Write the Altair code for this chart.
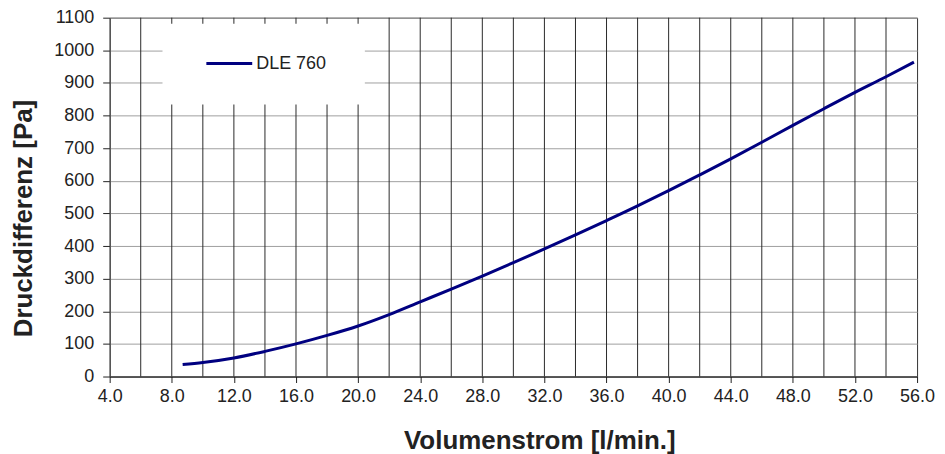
import altair as alt
import pandas as pd

series_name = "DLE 760"
flow = [8.7, 10, 12, 14, 16, 18, 20, 22, 24, 26, 28, 30, 32, 34, 36, 38, 40, 42, 44, 46, 48, 50, 52, 54, 55.8]
dp = [37, 43, 57, 77, 100, 126, 155, 190, 229, 268, 308, 349, 391, 434, 478, 523, 570, 618, 667, 718, 770, 821, 871, 919, 964]
x_ticks = [4, 8, 12, 16, 20, 24, 28, 32, 36, 40, 44, 48, 52, 56]
x_grid = [6, 8, 10, 12, 14, 16, 18, 20, 22, 24, 26, 28, 30, 32, 34, 36, 38, 40, 42, 44, 46, 48, 50, 52, 54]
y_ticks = [0, 100, 200, 300, 400, 500, 600, 700, 800, 900, 1000, 1100]

W, H = 810, 360

df = pd.DataFrame({"x": flow, "y": dp, "s": series_name})
grid_df = pd.DataFrame({"x": x_grid})

FONT = "Liberation Sans"
xscale = alt.Scale(domain=[4, 56], nice=False, zero=False)
yscale = alt.Scale(domain=[0, 1100], nice=False)

x_axis = alt.Axis(values=x_ticks, format=".1f", title="Volumenstrom [l/min.]",
                  grid=False, tickSize=6, tickColor="#222", domainColor="#111",
                  labelFontSize=18, labelColor="#222", labelPadding=5, labelFlush=False,
                  titleFontSize=26, titleFontWeight="bold", titleColor="#222",
                  titleX=431, titleY=64, titleBaseline="middle",
                  labelFont=FONT, titleFont=FONT)
y_axis = alt.Axis(values=y_ticks, format="d", title="Druckdifferenz [Pa]",
                  grid=True, gridColor="#a0a0a0", gridWidth=1,
                  tickSize=7, tickColor="#222", domainColor="#444",
                  labelFontSize=18, labelColor="#222", labelPadding=9, labelFlush=False,
                  titleFontSize=26, titleFontWeight="bold", titleColor="#222",
                  titleX=-86, titleY=201, titleBaseline="middle",
                  labelFont=FONT, titleFont=FONT)

vgrid = alt.Chart(grid_df).mark_rule(color="#2a2a2a", strokeWidth=1).encode(
    x=alt.X("x:Q", scale=xscale, axis=None),
    y=alt.value(0),
    y2=alt.value(H),
)

line = alt.Chart(df).mark_line(color="#000080", strokeWidth=3, interpolate="monotone").encode(
    x=alt.X("x:Q", scale=xscale, axis=x_axis),
    y=alt.Y("y:Q", scale=yscale, axis=y_axis),
)

box = alt.Chart(pd.DataFrame({"s": [series_name]})).mark_rect(color="white").encode(
    x=alt.value(53), x2=alt.value(256), y=alt.value(6), y2=alt.value(87)
)
leg_line = alt.Chart(pd.DataFrame({"s": [series_name]})).mark_rule(color="#000080", strokeWidth=3).encode(
    x=alt.value(97), x2=alt.value(143), y=alt.value(46)
)
leg_text = alt.Chart(pd.DataFrame({"s": [series_name]})).mark_text(
    align="left", baseline="middle", fontSize=18, font=FONT, color="#222"
).encode(x=alt.value(147), y=alt.value(46), text="s:N")

chart = alt.layer(vgrid, line, box, leg_line, leg_text).resolve_axis(x="independent").properties(
    width=W, height=H,
    autosize=alt.AutoSizeParams(type="none"),
    padding={"left": 102, "top": 9, "right": 20, "bottom": 77},
).configure_view(stroke="#333", strokeWidth=1)

chart.save("out.html", embed_options={"renderer": "svg", "actions": False})
